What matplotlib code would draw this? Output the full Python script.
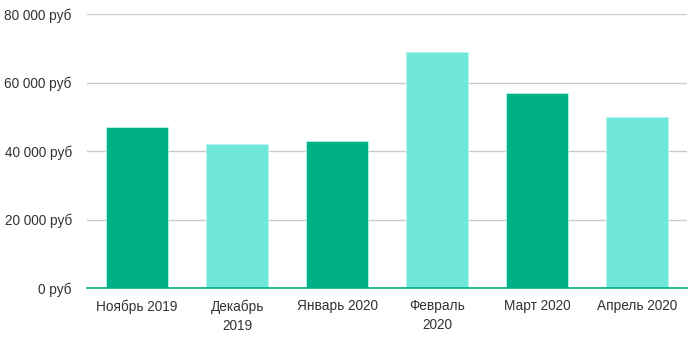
import matplotlib.pyplot as plt
import numpy as np

plt.rcParams['font.family'] = ['Liberation Sans', 'DejaVu Sans']

# Данные
months = ['Ноябрь 2019', 'Декабрь\n2019', 'Январь 2020', 'Февраль\n2020', 'Март 2020', 'Апрель 2020']
revenue = [47000, 42000, 43000, 69000, 57000, 50000]
colors = ['#00b086', '#6ee7da', '#00b086', '#6ee7da', '#00b086', '#6ee7da']

fig = plt.figure(figsize=(6.97, 3.37), dpi=100)
ax = fig.add_axes([0.125, 0.1445, 0.861, 0.8135])

x = np.arange(len(months))
ax.bar(x, revenue, width=0.62, color=colors, edgecolor='#b8f5ee', linewidth=0.6, zorder=3)

ax.set_xlim(-0.5, len(months) - 0.5)
ax.set_ylim(0, 80000)
ax.set_yticks(np.arange(0, 80001, 20000))
ax.set_yticklabels([f'{v:,.0f} руб'.replace(',', ' ') for v in np.arange(0, 80001, 20000)])
ax.set_xticks(x)
ax.set_xticklabels(months, linespacing=1.45)

ax.grid(axis='y', color='#cccccc', linewidth=1, zorder=0)
for s in ['top', 'right', 'left']:
    ax.spines[s].set_visible(False)
ax.spines['bottom'].set_color('#00b086')
ax.spines['bottom'].set_linewidth(1.2)
ax.spines['bottom'].set_zorder(4)
ax.tick_params(axis='both', length=0, labelsize=9.8, colors='#333333')
ax.tick_params(axis='y', pad=11)
ax.tick_params(axis='x', pad=8)

plt.savefig('out.png', dpi=100)
